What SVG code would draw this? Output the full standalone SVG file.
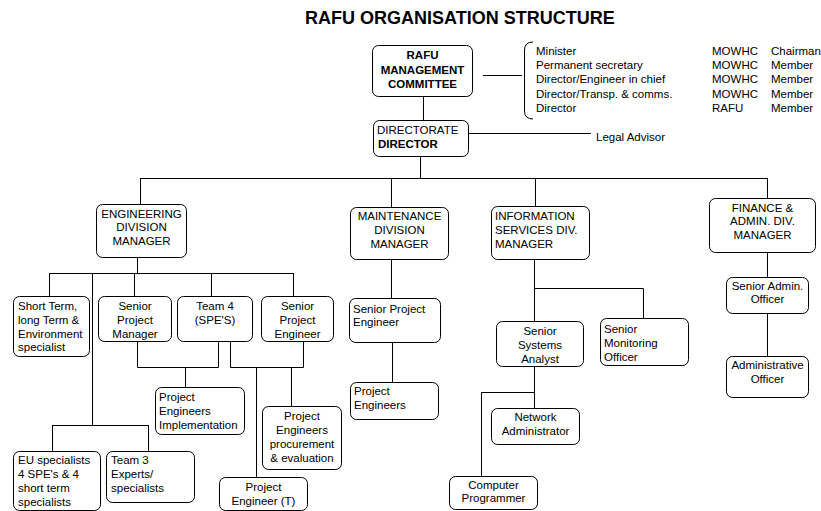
<svg xmlns="http://www.w3.org/2000/svg" width="821" height="511" viewBox="0 0 821 511">
<style>
.bx{fill:#fff;stroke:#000;stroke-width:1}
.t{font-family:"Liberation Sans",Arial,sans-serif;font-size:11.5px;fill:#000}
.c{text-anchor:middle}
.b{font-weight:bold}
.ln{fill:none;stroke:#000;stroke-width:1}
</style>
<rect width="821" height="511" fill="#fff"/>
<text x="305" y="23.5" class="t b" style="font-size:18px">RAFU ORGANISATION STRUCTURE</text>
<g id="connectors" class="ln">
<path d="M423.5,96 V120"/>
<path d="M483,75.5 H522"/>
<path d="M468,133.5 H591"/>
<path d="M420.5,156 V178"/>
<path d="M140,178.5 H768"/>
<path d="M140.5,178 V204 M391.5,178 V207 M535.5,178 V206 M767.5,178 V198"/>
<path d="M137.5,257 V273"/>
<path d="M49,273.5 H293"/>
<path d="M49.5,273 V296 M134.5,273 V296 M211.5,273 V296 M293.5,273 V296"/>
<path d="M92.5,273 V425 M52,425.5 H149 M52.5,425 V451 M148.5,425 V451"/>
<path d="M137.5,341 V367.5 H218.5 V341 M185.5,367 V387"/>
<path d="M230.5,341 V367.5 H303.5 V341 M256.5,367 V477 M291.5,367 V406"/>
<path d="M391.5,259 V298 M392.5,342 V382"/>
<path d="M534.5,259 V321 M534,288.5 H643.5 V318"/>
<path d="M534.5,366 V408 M482,392.5 H534 M481.5,392 V476"/>
<path d="M767.5,252 V277 M767.5,313 V356"/>
</g>
<g id="mc"><rect class="bx" x="372.5" y="45.5" width="100" height="51" rx="6"/>
<text class="t b c" x="422.5" y="59">RAFU</text><text class="t b c" x="422.5" y="73.5">MANAGEMENT</text><text class="t b c" x="422.5" y="88">COMMITTEE</text></g>
<g id="members">
<path class="ln" d="M533,42 Q524.5,42 524.5,50 V111 Q524.5,119 533,119"/>
<text class="t" x="536" y="55">Minister</text>
<text class="t" x="536" y="69.2">Permanent secretary</text>
<text class="t" x="536" y="83.4">Director/Engineer in chief</text>
<text class="t" x="536" y="97.6">Director/Transp. &amp; comms.</text>
<text class="t" x="536" y="111.8">Director</text>
<text class="t" x="712" y="55">MOWHC</text>
<text class="t" x="712" y="69.2">MOWHC</text>
<text class="t" x="712" y="83.4">MOWHC</text>
<text class="t" x="712" y="97.6">MOWHC</text>
<text class="t" x="712" y="111.8">RAFU</text>
<text class="t" x="771" y="55">Chairman</text>
<text class="t" x="771" y="69.2">Member</text>
<text class="t" x="771" y="83.4">Member</text>
<text class="t" x="771" y="97.6">Member</text>
<text class="t" x="771" y="111.8">Member</text>
</g>
<g id="directorate"><rect class="bx" x="373.5" y="120.5" width="95" height="36" rx="6"/>
<text class="t" x="377" y="133.5">DIRECTORATE</text><text class="t b" x="378" y="148">DIRECTOR</text></g>
<g id="legal"><text class="t" x="596" y="140.5">Legal Advisor</text></g>
<g id="eng"><rect class="bx" x="96.5" y="204.5" width="90" height="53" rx="6"/>
<text class="t c" x="141.5" y="217.5">ENGINEERING</text><text class="t c" x="141.5" y="231">DIVISION</text><text class="t c" x="141.5" y="244.5">MANAGER</text></g>
<g id="maint"><rect class="bx" x="350.5" y="207.5" width="98" height="52" rx="6"/>
<text class="t c" x="399.5" y="220">MAINTENANCE</text><text class="t c" x="399.5" y="234">DIVISION</text><text class="t c" x="399.5" y="248">MANAGER</text></g>
<g id="info"><rect class="bx" x="491.5" y="206.5" width="98" height="53" rx="6"/>
<text class="t" x="495" y="219.5">INFORMATION</text><text class="t" x="495" y="233.5">SERVICES DIV.</text><text class="t" x="495" y="247.5">MANAGER</text></g>
<g id="fin"><rect class="bx" x="709.5" y="198.5" width="106" height="54" rx="6"/>
<text class="t c" x="762.5" y="211.5">FINANCE &amp;</text><text class="t c" x="762.5" y="225">ADMIN. DIV.</text><text class="t c" x="762.5" y="238.5">MANAGER</text></g>
<g id="short"><rect class="bx" x="13.5" y="296.5" width="76" height="60" rx="6"/>
<text class="t" x="18" y="310">Short Term,</text><text class="t" x="18" y="324">long Term &amp;</text><text class="t" x="18" y="337.5">Environment</text><text class="t" x="18" y="351">specialist</text></g>
<g id="spm"><rect class="bx" x="98.5" y="296.5" width="73" height="45" rx="6"/>
<text class="t c" x="135" y="310">Senior</text><text class="t c" x="135" y="324">Project</text><text class="t c" x="135" y="337.5">Manager</text></g>
<g id="team4"><rect class="bx" x="177.5" y="296.5" width="75" height="45" rx="6"/>
<text class="t c" x="215" y="310">Team 4</text><text class="t c" x="215" y="324">(SPE'S)</text></g>
<g id="spe"><rect class="bx" x="261.5" y="296.5" width="72" height="45" rx="6"/>
<text class="t c" x="297.5" y="310">Senior</text><text class="t c" x="297.5" y="324">Project</text><text class="t c" x="297.5" y="337.5">Engineer</text></g>
<g id="pei"><rect class="bx" x="155.5" y="387.5" width="89" height="47" rx="6"/>
<text class="t" x="159" y="401">Project</text><text class="t" x="159" y="415">Engineers</text><text class="t" x="159" y="429">Implementation</text></g>
<g id="pep"><rect class="bx" x="262.5" y="406.5" width="79" height="63" rx="6"/>
<text class="t c" x="302" y="420">Project</text><text class="t c" x="302" y="434">Engineers</text><text class="t c" x="302" y="448">procurement</text><text class="t c" x="302" y="462">&amp; evaluation</text></g>
<g id="pet"><rect class="bx" x="219.5" y="477.5" width="88" height="33" rx="6"/>
<text class="t c" x="263.5" y="490.5">Project</text><text class="t c" x="263.5" y="505">Engineer (T)</text></g>
<g id="eu"><rect class="bx" x="13.5" y="451.5" width="87" height="59" rx="6"/>
<text class="t" x="18" y="464">EU specialists</text><text class="t" x="18" y="478">4 SPE's &amp; 4</text><text class="t" x="18" y="492">short term</text><text class="t" x="18" y="506">specialists</text></g>
<g id="team3"><rect class="bx" x="106.5" y="451.5" width="88" height="51" rx="6"/>
<text class="t" x="111" y="464">Team 3</text><text class="t" x="111" y="478">Experts/</text><text class="t" x="111" y="492">specialists</text></g>
<g id="mspe"><rect class="bx" x="349.5" y="298.5" width="91" height="44" rx="6"/>
<text class="t" x="353" y="312.5">Senior Project</text><text class="t" x="353" y="326">Engineer</text></g>
<g id="mpe"><rect class="bx" x="350.5" y="382.5" width="88" height="37" rx="6"/>
<text class="t" x="354" y="394.5">Project</text><text class="t" x="354" y="408.5">Engineers</text></g>
<g id="ssa"><rect class="bx" x="496.5" y="321.5" width="87" height="45" rx="6"/>
<text class="t c" x="540" y="335">Senior</text><text class="t c" x="540" y="349">Systems</text><text class="t c" x="540" y="362.5">Analyst</text></g>
<g id="smo"><rect class="bx" x="600.5" y="318.5" width="88" height="47" rx="6"/>
<text class="t" x="604" y="333">Senior</text><text class="t" x="604" y="347">Monitoring</text><text class="t" x="604" y="361">Officer</text></g>
<g id="na"><rect class="bx" x="491.5" y="408.5" width="88" height="36" rx="6"/>
<text class="t c" x="535.5" y="421">Network</text><text class="t c" x="535.5" y="434.5">Administrator</text></g>
<g id="cp"><rect class="bx" x="449.5" y="476.5" width="88" height="33" rx="6"/>
<text class="t c" x="493.5" y="488.5">Computer</text><text class="t c" x="493.5" y="502">Programmer</text></g>
<g id="sao"><rect class="bx" x="726.5" y="277.5" width="82" height="36" rx="6"/>
<text class="t c" x="767.5" y="289.5">Senior Admin.</text><text class="t c" x="767.5" y="303">Officer</text></g>
<g id="ao"><rect class="bx" x="726.5" y="356.5" width="82" height="41" rx="6"/>
<text class="t c" x="767.5" y="368.5">Administrative</text><text class="t c" x="767.5" y="383">Officer</text></g>
</svg>
